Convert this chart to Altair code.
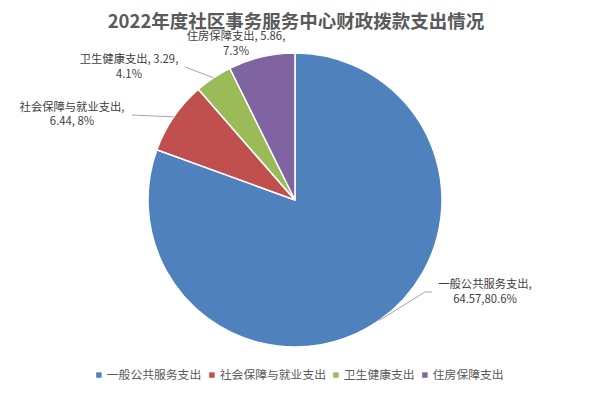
import altair as alt
import pandas as pd

# ---- data ----
categories = ["一般公共服务支出", "社会保障与就业支出", "卫生健康支出", "住房保障支出"]
values = [64.57, 6.44, 3.29, 5.86]
percents = ["80.6", "8", "4.1", "7.3"]
colors = ["#4F81BD", "#C0504D", "#9BBB59", "#8064A2"]
title_text = "2022年度社区事务服务中心财政拨款支出情况"

labels = [
    f"{categories[0]},\n{values[0]},{percents[0]}%",
    f"{categories[1]},\n{values[1]}, {percents[1]}%",
    f"{categories[2]}, {values[2]},\n{percents[2]}%",
    f"{categories[3]}, {values[3]},\n{percents[3]}%",
]

df = pd.DataFrame({
    "cat": categories,
    "value": values,
    "idx": list(range(len(categories))),
    "label": labels,
})

# ---- layout constants (svg pixels) ----
W, H = 576, 378
CX, CY, R = 287, 192, 147
FONT = "Noto Sans CJK SC"

base = alt.Chart(df)

pie = base.mark_arc(outerRadius=R, stroke="white", strokeWidth=1.5).encode(
    x=alt.value(CX),
    y=alt.value(CY),
    theta=alt.Theta("value:Q", stack=True),
    order=alt.Order("idx:Q"),
    color=alt.Color(
        "cat:N",
        scale=alt.Scale(domain=categories, range=colors),
        legend=alt.Legend(
            title=None,
            orient="none",
            legendX=85,
            legendY=361,
            direction="horizontal",
            symbolType="square",
            symbolSize=30,
            symbolStrokeWidth=0,
            labelFont=FONT,
            labelFontSize=11.8,
            labelColor="#595959",
            columnPadding=4,
            labelOffset=2,
            padding=0,
        ),
    ),
)

edge = base.transform_window(
    cum="sum(value)", sort=[alt.SortField("idx")]
).transform_joinaggregate(
    total="sum(value)"
).transform_calculate(
    mid="2*PI*(datum.cum - datum.value/2)/datum.total"
).transform_calculate(
    ex=f"{CX} + {R}*sin(datum.mid)",
    ey=f"{CY} - {R}*cos(datum.mid)",
)

leader_ends = {
    categories[0]: (417, 284),
    categories[1]: (124, 107),
    categories[2]: (177, 59),
}

layers = [pie]
for cat, (lx, ly) in leader_ends.items():
    layers.append(
        edge.transform_filter(alt.datum.cat == cat)
        .mark_rule(color="#A6A6A6", strokeWidth=1)
        .encode(
            x=alt.X("ex:Q", scale=None),
            y=alt.Y("ey:Q", scale=None),
            x2=alt.value(lx),
            y2=alt.value(ly),
        )
    )
# elbow of the first leader line
layers.append(
    base.transform_filter(alt.datum.idx == 0)
    .mark_rule(color="#A6A6A6", strokeWidth=1)
    .encode(x=alt.value(417), x2=alt.value(424), y=alt.value(284), y2=alt.value(284))
)

# (x centre, y of first line)
label_pos = {
    categories[0]: (477, 277),
    categories[1]: (64, 99.5),
    categories[2]: (121, 52),
    categories[3]: (228, 29),
}
for cat, (px, py) in label_pos.items():
    layers.append(
        base.transform_filter(alt.datum.cat == cat)
        .mark_text(
            align="center", baseline="middle", lineBreak="\n", lineHeight=14.5,
            font=FONT, fontSize=11.3, color="#404040",
        )
        .encode(x=alt.value(px), y=alt.value(py), text="label:N")
    )

title_layer = (
    base.transform_filter(alt.datum.idx == 0)
    .transform_calculate(t=f"'{title_text}'")
    .mark_text(align="center", baseline="middle", font=FONT, fontSize=18.5,
               fontWeight="bold", color="#595959")
    .encode(x=alt.value(288), y=alt.value(13.5), text="t:N")
)
layers.append(title_layer)

chart = (
    alt.layer(*layers)
    .properties(width=W, height=H, autosize=alt.AutoSizeParams(type="none"), padding=0,
                background="white")
    .configure_view(stroke=None)
)

chart.save("out.html", embed_options={"renderer": "svg", "actions": False})
